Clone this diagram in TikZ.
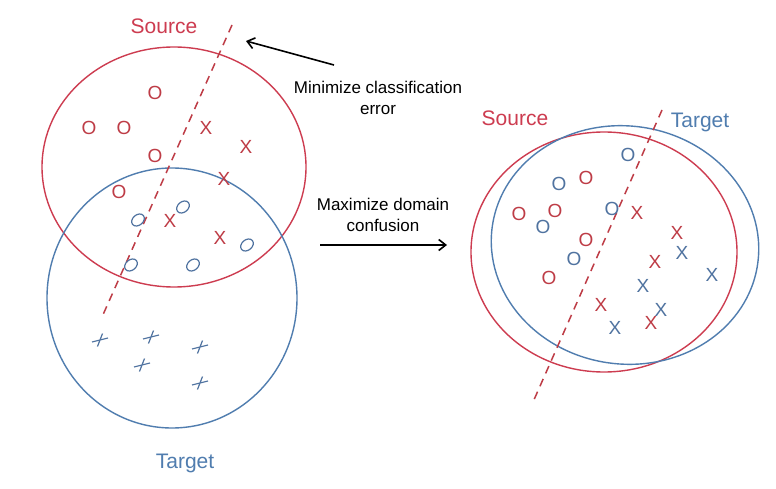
\documentclass[tikz,border=0pt]{standalone}
\usepackage{fontspec}
\setmainfont{Liberation Sans}
\usetikzlibrary{arrows.meta}
\definecolor{srcred}{RGB}{205,60,80}
\definecolor{mkred}{RGB}{190,60,70}
\definecolor{tgtblue}{RGB}{80,125,175}
\definecolor{mkblue}{RGB}{80,115,160}
\begin{document}
\begin{tikzpicture}[x=1pt,y=-1pt,
  lbl/.style={font=\fontsize{21}{24}\selectfont},
  note/.style={font=\fontsize{17}{20.5}\selectfont, align=center, text=black},
  mk/.style={font=\fontsize{19}{19}\selectfont, inner sep=0pt},
  rO/.style={mk, text=mkred},
  bO/.style={mk, text=mkblue},
  sep/.style={draw=mkred, line width=1.5pt, dash pattern=on 8pt off 6pt},
  ell/.style={line width=1.4pt},
  arr/.style={-{Straight Barb[length=7pt,width=11pt]}, line width=1.6pt}]
\useasboundingbox (0,0) rectangle (776,489);
\fill[white] (0,0) rectangle (776,489);
% ---------- left ----------
\draw[ell, srcred] (174,167) ellipse [x radius=132, y radius=120];
\draw[ell, tgtblue] (172,298) ellipse [x radius=125, y radius=130];
\coordinate (l1) at (232,25); \coordinate (l2) at (102,317);
\draw[sep] (l1) -- (l2);
\node[lbl, text=srcred] (srcL) at (164,26) {Source};
\node[lbl, text=tgtblue] (tgtL) at (185,463) {Target};
% red O
\foreach \p [count=\i] in {(155,93),(89,128),(124,128),(155,156),(119,192)}
  \node[rO] (lo\i) at \p {O};
\foreach \p [count=\i] in {(206,128),(246,147),(224,179),(170,221),(220,238)}
  \node[rO] (lx\i) at \p {X};
% blue small ellipses
\foreach \p in {(183,207),(138,220),(247,245),(193,265),(131,265)}
  \draw[mkblue, line width=1.2pt, rotate around={40:\p}] \p ellipse [x radius=7, y radius=5.2];
% blue pluses
\foreach \p in {(100,340),(151,337),(142,365),(200,347),(200,383)}
  \draw[mkblue, line width=1.2pt, shift={\p}] (-8,2) -- (8,-2) (2.5,-6.5) -- (-2.5,6.5);
% arrows and notes
\coordinate (a1s) at (334,65); \coordinate (a1e) at (246,41);
\draw[arr] (a1s) -- (a1e);
\node[note] (minN) at (378,98) {Minimize classification\\error};
\node[note] (maxN) at (383,215) {Maximize domain\\confusion};
\coordinate (a2s) at (320,245); \coordinate (a2e) at (447,245);
\draw[arr] (a2s) -- (a2e);
% ---------- right ----------
\draw[ell, srcred] (604,252) ellipse [x radius=133, y radius=120];
\draw[ell, tgtblue, rotate around={-8:(625,245)}] (625,245) ellipse [x radius=134, y radius=119];
\coordinate (r1) at (662,110); \coordinate (r2) at (533,402);
\draw[sep] (r1) -- (r2);
\node[lbl, text=srcred] (srcR) at (515,118) {Source};
\node[lbl, text=tgtblue] (tgtR) at (700,122) {Target};
\foreach \p [count=\i] in {(586,178),(519,214),(555,211),(586,240),(549,278)}
  \node[rO] (ro\i) at \p {O};
\foreach \p [count=\i] in {(628,155),(559,184),(543,227),(612,209),(574,259)}
  \node[bO] (bo\i) at \p {O};
\foreach \p [count=\i] in {(637,213),(677,233),(655,262),(601,305),(651,323)}
  \node[rO] (rx\i) at \p {X};
\foreach \p [count=\i] in {(682,253),(712,275),(643,286),(661,310),(615,328)}
  \node[bO] (bx\i) at \p {X};
\end{tikzpicture}
\end{document}
